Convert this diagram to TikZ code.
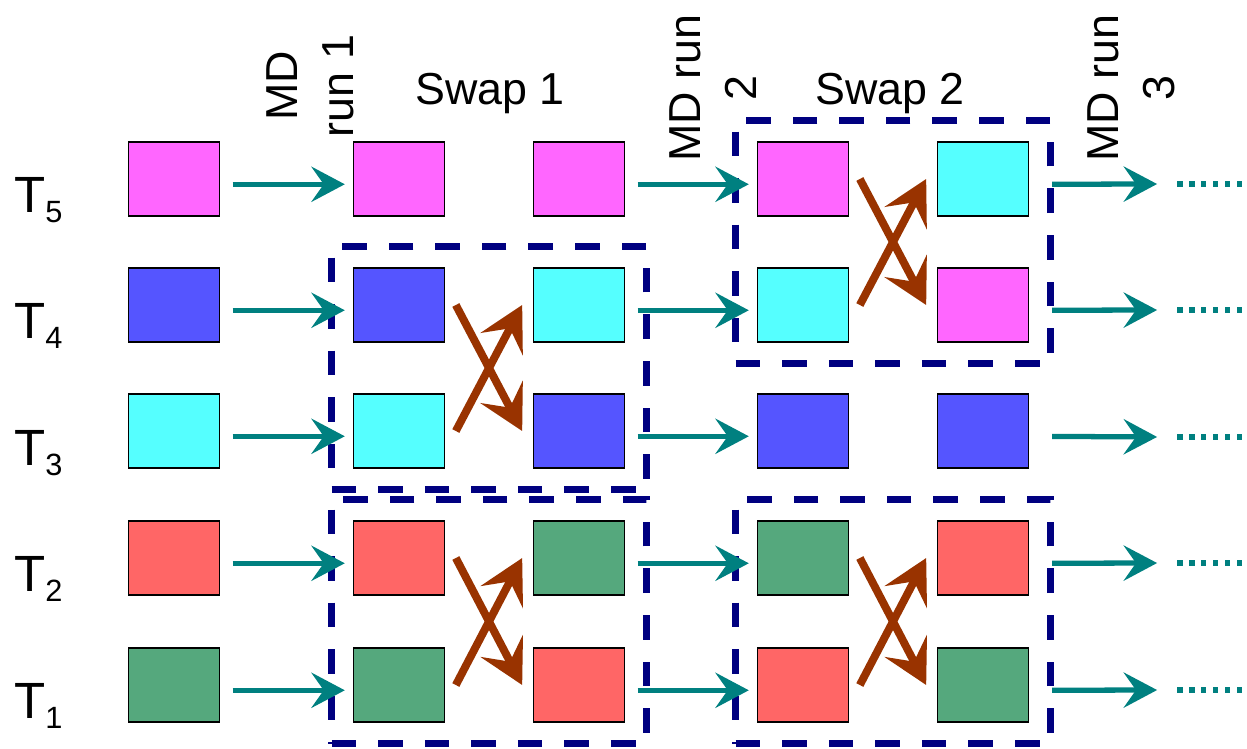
\documentclass[tikz,border=0pt]{standalone}
\usepackage{fontspec}
\setmainfont{Liberation Sans}
\usetikzlibrary{arrows.meta,fit}
\definecolor{pinkc}{RGB}{255,102,255}
\definecolor{bluec}{RGB}{85,85,255}
\definecolor{cyanc}{RGB}{85,255,255}
\definecolor{redc}{RGB}{255,102,102}
\definecolor{greenc}{RGB}{85,168,125}
\definecolor{tealc}{RGB}{0,128,128}
\definecolor{brownc}{RGB}{153,51,0}
\definecolor{navyc}{RGB}{0,0,128}
\newcommand{\Tsub}[1]{\raisebox{-5.7pt}{\fontsize{17.5}{18}\selectfont #1}}

\begin{document}
\begin{tikzpicture}[x=0.02cm,y=-0.02cm,
  state/.style={draw=black,line width=0.9pt,minimum width=1.82cm,minimum height=1.48cm,inner sep=0pt},
  flow/.style={draw=tealc,line width=3pt,shorten <=7pt,shorten >=4.5pt,-{Stealth[length=19pt,width=20pt,inset=7pt]}},
  xchg/.style={draw=brownc,line width=4.5pt,-{Stealth[length=25pt,width=27pt,inset=10pt]}},
  swapbox/.style={draw=navyc,line width=4pt,dash pattern=on 14pt off 12.5pt,inner sep=12pt},
  more/.style={draw=tealc,line width=3pt,dash pattern=on 3pt off 3.8pt},
  lbl/.style={font=\fontsize{25.5}{32}\selectfont},
  tlbl/.style={font=\fontsize{29}{34}\selectfont,inner sep=0pt,anchor=base west}]
\useasboundingbox (0,0) rectangle (1247,748);
% temperature labels
\node[tlbl] (t5) at (14,212) {T\Tsub{5}};
\node[tlbl] (t4) at (14,338) {T\Tsub{4}};
\node[tlbl] (t3) at (14,465) {T\Tsub{3}};
\node[tlbl] (t2) at (14,591) {T\Tsub{2}};
\node[tlbl] (t1) at (14,718) {T\Tsub{1}};
% replicas
\node[state,fill=pinkc] (a5) at (174,179) {};
\node[state,fill=bluec] (a4) at (174,305) {};
\node[state,fill=cyanc] (a3) at (174,431) {};
\node[state,fill=redc] (a2) at (174,558) {};
\node[state,fill=greenc] (a1) at (174,685) {};
\node[state,fill=pinkc] (b5) at (399,179) {};
\node[state,fill=bluec] (b4) at (399,305) {};
\node[state,fill=cyanc] (b3) at (399,431) {};
\node[state,fill=redc] (b2) at (399,558) {};
\node[state,fill=greenc] (b1) at (399,685) {};
\node[state,fill=pinkc] (c5) at (579,179) {};
\node[state,fill=cyanc] (c4) at (579,305) {};
\node[state,fill=bluec] (c3) at (579,431) {};
\node[state,fill=greenc] (c2) at (579,558) {};
\node[state,fill=redc] (c1) at (579,685) {};
\node[state,fill=pinkc] (d5) at (803,179) {};
\node[state,fill=cyanc] (d4) at (803,305) {};
\node[state,fill=bluec] (d3) at (803,431) {};
\node[state,fill=greenc] (d2) at (803,558) {};
\node[state,fill=redc] (d1) at (803,685) {};
\node[state,fill=cyanc] (e5) at (983,179) {};
\node[state,fill=pinkc] (e4) at (983,305) {};
\node[state,fill=bluec] (e3) at (983,431) {};
\node[state,fill=redc] (e2) at (983,558) {};
\node[state,fill=greenc] (e1) at (983,685) {};
% swap pairs
\node[swapbox,fit=(b4)(c3)] (p1) {};
\node[swapbox,fit=(b2)(c1)] (p2) {};
\node[swapbox,fit=(d5)(e4)] (p3) {};
\node[swapbox,fit=(d2)(e1)] (p4) {};
% headings
\node[lbl,rotate=90,align=center] (md1) at (310,86) {MD\\run 1};
\node[lbl,rotate=90,align=center] (md2) at (713,88) {MD run\\2};
\node[lbl,rotate=90,align=center] (md3) at (1131,88) {MD run\\3};
\node[lbl,anchor=base] (sw1) at (490,104) {Swap 1};
\node[lbl,anchor=base] (sw2) at (890,104) {Swap 2};
% MD runs
\draw[flow] ([yshift=-3pt]a5.east) -- ([yshift=-3pt]b5.west);
\draw[flow] ([yshift=-3pt]a4.east) -- ([yshift=-3pt]b4.west);
\draw[flow] ([yshift=-3pt]a3.east) -- ([yshift=-3pt]b3.west);
\draw[flow] ([yshift=-3pt]a2.east) -- ([yshift=-3pt]b2.west);
\draw[flow] ([yshift=-3pt]a1.east) -- ([yshift=-3pt]b1.west);
\draw[flow] ([yshift=-3pt]c5.east) -- ([yshift=-3pt]d5.west);
\draw[flow] ([yshift=-3pt]c4.east) -- ([yshift=-3pt]d4.west);
\draw[flow] ([yshift=-3pt]c3.east) -- ([yshift=-3pt]d3.west);
\draw[flow] ([yshift=-3pt]c2.east) -- ([yshift=-3pt]d2.west);
\draw[flow] ([yshift=-3pt]c1.east) -- ([yshift=-3pt]d1.west);
\coordinate (o5) at (1165,184);
\coordinate (o4) at (1165,310);
\coordinate (o3) at (1165,437);
\coordinate (o2) at (1165,563);
\coordinate (o1) at (1165,690);
\draw[flow,shorten <=13pt] ([yshift=-3pt]e5.east) -- (o5);
\draw[flow,shorten <=13pt] ([yshift=-3pt]e4.east) -- (o4);
\draw[flow,shorten <=13pt] ([yshift=-3pt]e3.east) -- (o3);
\draw[flow,shorten <=13pt] ([yshift=-3pt]e2.east) -- (o2);
\draw[flow,shorten <=13pt] ([yshift=-3pt]e1.east) -- (o1);
\draw[more] ([xshift=7pt]o5) -- ([xshift=44pt]o5);
\draw[more] ([xshift=7pt]o4) -- ([xshift=44pt]o4);
\draw[more] ([xshift=7pt]o3) -- ([xshift=44pt]o3);
\draw[more] ([xshift=7pt]o2) -- ([xshift=44pt]o2);
\draw[more] ([xshift=7pt]o1) -- ([xshift=44pt]o1);
% exchanges
\draw[xchg] ([xshift=6pt]b4.east) -- ([xshift=-6pt]c3.west);
\draw[xchg] ([xshift=6pt]b3.east) -- ([xshift=-6pt]c4.west);
\draw[xchg] ([xshift=6pt]b2.east) -- ([xshift=-6pt]c1.west);
\draw[xchg] ([xshift=6pt]b1.east) -- ([xshift=-6pt]c2.west);
\draw[xchg] ([xshift=6pt]d5.east) -- ([xshift=-6pt]e4.west);
\draw[xchg] ([xshift=6pt]d4.east) -- ([xshift=-6pt]e5.west);
\draw[xchg] ([xshift=6pt]d2.east) -- ([xshift=-6pt]e1.west);
\draw[xchg] ([xshift=6pt]d1.east) -- ([xshift=-6pt]e2.west);
\end{tikzpicture}
\end{document}
